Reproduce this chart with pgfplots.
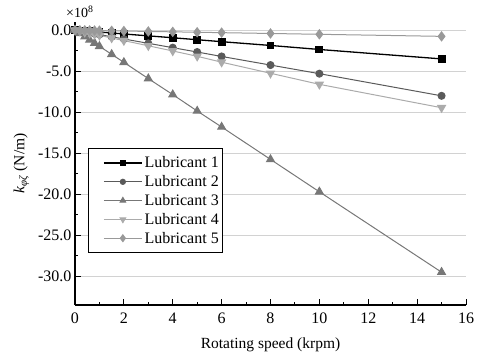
\documentclass[border=0pt]{standalone}
\usepackage{pgfplots}
\pgfplotsset{compat=1.18}
\usepackage{fontspec}
\setmainfont{Liberation Serif}

% stiffness coefficient vs rotating speed, values in units of 1e8 N/m
\pgfplotstableread{
x     l1     l2     l3      l4     l5
0     0      0      0       0      0
0.2   -0.04  -0.10  -0.40   -0.12  -0.01
0.4   -0.09  -0.21  -0.79   -0.25  -0.02
0.6   -0.13  -0.31  -1.18   -0.37  -0.03
0.8   -0.18  -0.42  -1.57   -0.50  -0.04
1.0   -0.22  -0.53  -1.96   -0.63  -0.05
1.5   -0.34  -0.80  -2.94   -0.95  -0.08
2     -0.46  -1.07  -3.92   -1.27  -0.10
3     -0.69  -1.60  -5.90   -1.90  -0.15
4     -0.92  -2.13  -7.85   -2.53  -0.20
5     -1.16  -2.66  -9.85   -3.18  -0.25
6     -1.40  -3.20  -11.80  -3.90  -0.30
8     -1.86  -4.25  -15.75  -5.25  -0.40
10    -2.35  -5.30  -19.70  -6.60  -0.50
15    -3.50  -8.00  -29.50  -9.45  -0.75
}\datatable

\definecolor{c1}{HTML}{000000}
\definecolor{c2}{HTML}{5A5A5A}
\definecolor{c3}{HTML}{777777}
\definecolor{c4}{HTML}{ABABAB}
\definecolor{c5}{HTML}{999999}

\pgfplotsset{
  longleg/.style={legend image code/.code={%
    \path (0cm,0cm);
    \draw[##1, mark=none] (0.45cm,0cm) -- (1.79cm,0cm);
    \draw[##1, mark size=#1] plot coordinates {(1.12cm,0cm)};}},
}

\begin{document}
\begin{tikzpicture}
\begin{axis}[
  width=391pt, height=283pt, scale only axis,
  xmin=0, xmax=16, ymin=-33.5, ymax=1,
  axis lines=left,
  axis line style={-, line width=1.4pt},
  xtick={0,2,...,16}, minor x tick num=1,
  ytick={-30,-25,...,0}, minor y tick num=1,
  tick align=inside,
  major tick length=6pt, minor tick length=3.5pt,
  tick style={black, line width=0.9pt},
  ymajorgrids, major grid style={gray!35, line width=0.6pt},
  every tick label/.append style={font=\fontsize{16}{19}\selectfont},
  /pgf/number format/assume math mode=true,
  yticklabel style={/pgf/number format/.cd, fixed, fixed zerofill, precision=1},
  xticklabel style={yshift=-4pt, /pgf/number format/.cd, fixed, precision=0},
  xlabel={Rotating speed (krpm)},
  ylabel={\textit{k}\textsubscript{\textit{φζ}} (N/m)},
  label style={font=\fontsize{15.5}{18}\selectfont},
  xlabel style={yshift=-8pt},
  ylabel style={yshift=2pt},
  legend style={at={(axis cs:0.53,-14.4)}, anchor=north west,
    draw=black, line width=0.8pt, fill=white,
    font=\fontsize{16}{19}\selectfont, row sep=2.2pt,
    inner xsep=2pt, inner ysep=6pt},
  legend cell align=left,
  clip=false,
]
\addplot[c1, line width=1.3pt, mark=square*, mark size=3.3pt, longleg=2.4pt] table[x=x, y=l1] {\datatable};
\addlegendentry{Lubricant 1}
\addplot[c2, line width=1.0pt, mark=*, mark size=3.5pt, longleg=2.6pt] table[x=x, y=l2] {\datatable};
\addlegendentry{Lubricant 2}
\addplot[c3, line width=1.0pt, mark=triangle*, mark size=4.5pt, longleg=3.2pt] table[x=x, y=l3] {\datatable};
\addlegendentry{Lubricant 3}
\addplot[c4, line width=1.0pt, mark=triangle*, mark size=4.5pt, mark options={rotate=180}, longleg=3.2pt] table[x=x, y=l4] {\datatable};
\addlegendentry{Lubricant 4}
\addplot[c5, line width=1.0pt, mark=diamond*, mark size=4.5pt, longleg=3.4pt] table[x=x, y=l5] {\datatable};
\addlegendentry{Lubricant 5}
\node[anchor=south west, font=\fontsize{14}{16}\selectfont, inner sep=1pt] at ([xshift=-10pt, yshift=3pt]rel axis cs:0,1) {×10\textsuperscript{8}};
\coordinate (origin) at (rel axis cs:0,0);
\end{axis}
% page frame around the axis box
\pgfresetboundingbox
\useasboundingbox ([shift={(-75pt,-57pt)}]origin) rectangle ([shift={(402pt,305pt)}]origin);
\end{tikzpicture}
\end{document}
